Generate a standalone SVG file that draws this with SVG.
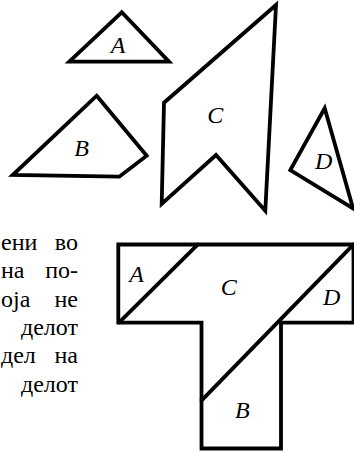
<svg xmlns="http://www.w3.org/2000/svg" width="354" height="452" viewBox="0 0 354 452">
<style>
.s{fill:none;stroke:#000;stroke-width:3.8;stroke-linejoin:miter;stroke-linecap:square}
.l{font-family:'Liberation Serif','Times New Roman',serif;font-style:italic;font-size:24px;fill:#000;text-anchor:middle}
.t{font-family:'Liberation Serif','Times New Roman',serif;font-size:24px;fill:#000}
.e{text-anchor:end}
</style>
<rect width="354" height="452" fill="#fff"/>
<g id="pieceA"><polygon class="s" points="121.7,12.3 69.3,61.7 169,61.7"/><text class="l" x="118" y="53">A</text></g>
<g id="pieceB"><polygon class="s" points="96.7,95.7 146.7,155.7 119.3,176.7 12.7,175"/><text class="l" x="81.7" y="156">B</text></g>
<g id="pieceC"><polygon class="s" points="276,5 265.3,210.7 216,155 161.7,204 164,102.7"/><text class="l" x="215.3" y="123">C</text></g>
<g id="pieceD"><polygon class="s" points="324.7,108.3 290.3,170 353,208.3"/><text class="l" x="323.7" y="169">D</text></g>
<g id="shapeT">
<polygon class="s" points="118.3,244.5 353.5,244.5 353.5,322.7 281,322.7 281,448.5 201.5,448.5 201.5,322.7 118.3,322.7"/>
<text class="l" x="136.7" y="282">A</text>
<text class="l" x="228.7" y="295">C</text>
<text class="l" x="331.7" y="305">D</text>
<text class="l" x="242.3" y="418">B</text>
</g>
<g id="connectors">
<line class="s" x1="119.5" y1="322" x2="197.3" y2="245"/>
<line class="s" x1="353" y1="245" x2="202" y2="400"/>
</g>
<g id="bodytext">
<text class="t" x="1" y="250">ени</text><text class="t e" x="78" y="250">во</text>
<text class="t" x="1" y="278.3">на</text><text class="t e" x="78" y="278.3">по-</text>
<text class="t" x="1" y="306.6">оја</text><text class="t e" x="78" y="306.6">не</text>
<text class="t e" x="78" y="334.9">делот</text>
<text class="t" x="1" y="363.2">дел</text><text class="t e" x="78" y="363.2">на</text>
<text class="t e" x="78" y="391.5">делот</text>
</g>
</svg>
